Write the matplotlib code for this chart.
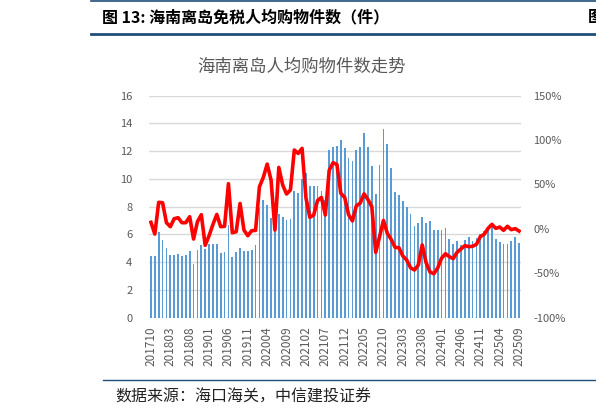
import matplotlib
matplotlib.use("Agg")
import matplotlib.pyplot as plt
import numpy as np

plt.rcParams['font.family'] = ['Noto Sans CJK SC', 'DejaVu Sans']

# months 2017-10 .. 2025-09
months = []
y, m = 2017, 10
while (y, m) <= (2025, 9):
    months.append("{}{:02d}".format(y, m))
    m += 1
    if m > 12:
        y, m = y + 1, 1

# 人均购物件数（件）
per_capita = [4.47, 4.47, 6.15, 5.63, 5.00, 4.52, 4.54, 4.59, 4.45, 4.54,
              4.78, 3.89, 4.86, 5.24, 4.98, 5.34, 5.34, 5.34, 4.69, 4.76,
              6.71, 4.40, 4.74, 5.02, 4.80, 4.78, 4.86, 5.22, 7.93, 8.49,
              8.10, 7.19, 7.50, 7.48, 7.24, 7.04, 7.14, 9.13, 9.00, 10.02,
              10.43, 9.49, 9.49, 9.47, 9.14, 8.50, 12.08, 12.27, 12.35, 12.80,
              12.20, 11.50, 11.28, 12.08, 12.30, 13.28, 12.27, 10.95, 8.90, 10.98,
              13.60, 12.50, 10.76, 9.08, 8.83, 8.40, 7.98, 7.48, 6.61, 6.80,
              7.28, 6.86, 7.00, 6.30, 6.30, 6.31, 6.47, 5.70, 5.30, 5.50,
              5.26, 5.60, 5.85, 5.51, 5.75, 6.00, 6.23, 6.55, 6.57, 5.70,
              5.46, 5.34, 5.34, 5.51, 5.85, 5.36]

# 同比（%）
yoy = [7.4, -5.8, 29.9, 29.5, 7.0, 2.5, 11.5, 12.6, 7.0, 7.0,
       13.7, -11.4, 8.1, 16.0, -18.5, -7.7, 5.0, 16.3, 2.5, 2.9,
       50.9, -4.3, -3.2, 28.7, -1.3, -7.7, -2.0, -1.7, 47.5, 58.0,
       73.0, 55.0, -1.3, 69.3, 49.4, 39.3, 43.8, 88.8, 85.0, 90.7,
       35.0, 13.0, 15.6, 32.0, 35.5, 15.6, 66.0, 74.5, 72.5, 40.0,
       35.5, 16.0, 9.0, 26.0, 29.0, 39.5, 33.0, 25.0, -26.4, -8.8,
       9.5, -5.0, -11.8, -20.8, -21.2, -30.5, -35.0, -43.7, -46.3, -40.7,
       -18.0, -38.0, -48.5, -50.5, -44.0, -33.0, -28.0, -31.3, -33.5, -26.4,
       -22.6, -18.9, -20.0, -19.6, -17.4, -8.7, -6.1, 0.6, 5.1, 0.6,
       2.1, -1.6, 2.9, -0.9, 0.3, -2.4]

W, H = 596, 418
fig = plt.figure(figsize=(W / 100, H / 100), dpi=100)
ax = fig.add_axes([149 / W, 1 - 317.7 / H, 372 / W, 222 / H])

x = np.arange(len(months))
ax.bar(x, per_capita, width=0.45, color='#5B9BD5', zorder=2)
ax.set_xlim(-0.5, len(months) - 0.5)
ax.set_ylim(0, 16)
ax.set_yticks(np.arange(0, 17, 2))
ax.yaxis.grid(True, color='#D9D9D9', linewidth=1, zorder=0)
ax.set_axisbelow(True)
ax.set_xticks(x[::5])
ax.set_xticklabels(months[::5], rotation=90)
ax.tick_params(axis='both', length=0, colors='#595959')
ax.tick_params(axis='y', pad=12, labelsize=8)
ax.tick_params(axis='x', pad=6, labelsize=8.5)
for s in ax.spines.values():
    s.set_visible(False)

ax2 = ax.twinx()
ax2.plot(x, yoy, color='#FF0000', linewidth=2.6, solid_joinstyle='round')
ax2.set_ylim(-100, 150)
ax2.set_yticks(np.arange(-100, 151, 50))
ax2.set_yticklabels(["{}%".format(v) for v in range(-100, 151, 50)])
ax2.tick_params(axis='y', length=0, colors='#595959', labelsize=8, pad=9)
for s in ax2.spines.values():
    s.set_visible(False)

# chart title
fig.text(301 / W, 1 - 67 / H, "海南离岛人均购物件数走势", ha='center', va='center',
         fontsize=12.5, color='#595959')

# report frame
fig.add_artist(plt.Line2D([91 / W, 1], [1 - 0.8 / H, 1 - 0.8 / H], color='#1F4E79', linewidth=1.2))
fig.add_artist(plt.Line2D([91 / W, 1], [1 - 33.5 / H, 1 - 33.5 / H], color='#1F4E79', linewidth=2))
fig.text(102 / W, 1 - 17 / H, "图 13: 海南离岛免税人均购物件数（件）", ha='left', va='center',
         fontsize=11.5, fontweight='bold', color='black')
fig.text(588 / W, 1 - 17 / H, "图", ha='left', va='center',
         fontsize=11.5, fontweight='bold', color='black')
fig.add_artist(plt.Line2D([103 / W, 1], [1 - 380 / H, 1 - 380 / H], color='#1F4E79', linewidth=1))
fig.text(115 / W, 1 - 397 / H, "数据来源：海口海关，中信建投证券", ha='left', va='center',
         fontsize=11.5, color='#222222')

fig.savefig("out.png", dpi=100)
